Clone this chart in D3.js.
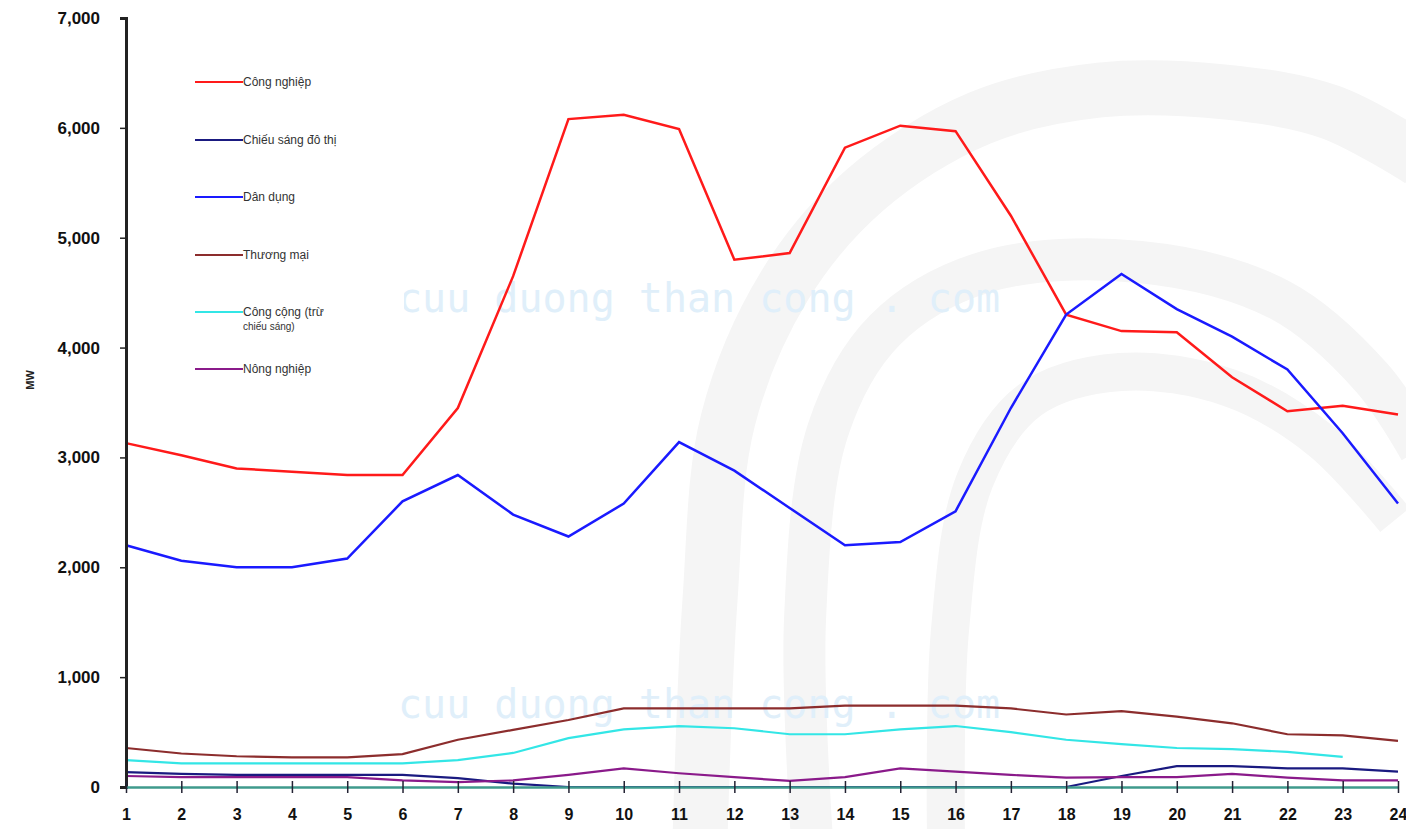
<!DOCTYPE html>
<html>
<head>
<meta charset="utf-8">
<script src="https://cdn.jsdelivr.net/npm/d3@7"></script>
<style>
  body { margin: 0; background: #fff; }
  svg { display: block; }
</style>
</head>
<body>
<svg id="chart" width="1406" height="829"></svg>
<script>
// hours of the day
const hours = d3.range(1, 25);

// MW per sector
const congNghiep = [3130, 3020, 2900, 2870, 2840, 2840, 3450, 4650, 6080, 6120, 5990, 4800,
                    4860, 5820, 6020, 5970, 5200, 4300, 4150, 4140, 3730, 3420, 3470, 3390];
const chieuSang  = [135, 120, 110, 110, 110, 110, 80, 30, 0, 0, 0, 0,
                    0, 0, 0, 0, 0, 0, 100, 190, 190, 170, 170, 140];
const danDung    = [2200, 2060, 2000, 2000, 2080, 2600, 2840, 2480, 2280, 2580, 3140, 2880,
                    2540, 2200, 2230, 2510, 3450, 4300, 4670, 4350, 4100, 3800, 3220, 2580];
const thuongMai  = [355, 305, 280, 270, 270, 300, 430, 520, 610, 715, 715, 715,
                    715, 740, 740, 740, 715, 660, 690, 640, 580, 480, 470, 420];
const congCong   = [245, 215, 215, 215, 215, 215, 245, 310, 445, 525, 555, 535,
                    480, 480, 525, 555, 500, 430, 390, 355, 345, 320, 275, null];
const nongNghiep = [100, 90, 90, 90, 90, 60, 45, 60, 110, 170, 125, 90,
                    55, 90, 170, 140, 110, 85, 90, 90, 120, 85, 60, 60];

const seriesNames = ["Công nghiệp", "Chiếu sáng đô thị", "Dân dụng", "Thương mại",
                     "Công cộng (trừ chiếu sáng)", "Nông nghiệp"];
const seriesValues = [congNghiep, chieuSang, danDung, thuongMai, congCong, nongNghiep];
const seriesColors = ["#ff1a1a", "#1a1a80", "#1a1aff", "#8c2d2d", "#33e6e6", "#8a1a8a"];
const seriesWidths = [2.5, 2.2, 2.5, 2.2, 2.2, 2.2];

const yTicks = [0, 1000, 2000, 3000, 4000, 5000, 6000, 7000];

const svg = d3.select("#chart");

const x = d3.scaleLinear().domain([1, 24]).range([126, 1398]);
const y = d3.scaleLinear().domain([0, 7000]).range([787, 18]);

// faint watermark swirl in the background (decoration, not data)
const swirl = [
    { w: 55, pts: [[700, 840], [710, 600], [728, 420], [785, 285], [865, 190], [980, 118], [1100, 90], [1225, 92], [1330, 112], [1420, 160]] },
    { w: 42, pts: [[812, 840], [805, 620], [828, 430], [885, 330], [985, 272], [1140, 262], [1280, 300], [1372, 378], [1420, 450]] },
    { w: 38, pts: [[946, 840], [950, 630], [975, 480], [1030, 400], [1120, 372], [1230, 388], [1320, 440], [1395, 520]] }
];
const swirlLine = d3.line().curve(d3.curveCatmullRom);
svg.append("g")
    .selectAll("path")
    .data(swirl)
    .join("path")
    .attr("d", d => swirlLine(d.pts))
    .attr("fill", "none")
    .attr("stroke", "#f5f5f5")
    .attr("stroke-width", d => d.w);

// watermark text
svg.selectAll(".wmtext")
    .data([312, 718])
    .join("text")
    .attr("class", "wmtext")
    .attr("x", 398)
    .attr("y", d => d)
    .attr("font-family", "DejaVu Sans Mono")
    .attr("font-size", 40)
    .attr("fill", "#e0effa")
    .text("cuu duong than cong . com");

// legend box
const legend = svg.append("g");
legend.append("rect")
    .attr("x", 182).attr("y", 60).attr("width", 222).attr("height", 330)
    .attr("fill", "#fff");

const legendY = [82, 140, 197, 255, 312, 369];
seriesNames.forEach((name, i) => {
    legend.append("line")
        .attr("x1", 195).attr("x2", 243)
        .attr("y1", legendY[i]).attr("y2", legendY[i])
        .attr("stroke", seriesColors[i]).attr("stroke-width", 2);
    let t = legend.append("text")
        .attr("x", 243).attr("y", legendY[i] + 4)
        .attr("font-family", "Liberation Sans")
        .attr("font-size", 12)
        .attr("fill", "#333");
    if (name.indexOf("(") > 0) {
        t.append("tspan").text("Công cộng (trừ");
        t.append("tspan").attr("x", 243).attr("dy", 14).attr("font-size", 10).text("chiếu sáng)");
    } else {
        t.text(name);
    }
});

// lines
const line = d3.line()
    .defined(d => d.v !== null)
    .x(d => x(d.h))
    .y(d => y(d.v));

seriesValues.forEach((vals, i) => {
    svg.append("path")
        .datum(hours.map((h, j) => ({ h: h, v: vals[j] })))
        .attr("fill", "none")
        .attr("stroke", seriesColors[i])
        .attr("stroke-width", seriesWidths[i])
        .attr("d", line);
});

// y axis
const yAxis = svg.append("g")
    .attr("transform", "translate(126,0)")
    .call(d3.axisLeft(y).tickValues(yTicks).tickSize(6).tickPadding(20)
        .tickFormat(d => d === 0 ? "0" : d3.format(",")(d)));
yAxis.select(".domain").attr("stroke", "#222").attr("stroke-width", 3);
yAxis.selectAll(".tick line").attr("stroke", "#222").attr("stroke-width", 1.5);
yAxis.selectAll("text")
    .attr("font-family", "Liberation Sans")
    .attr("font-weight", "bold")
    .attr("font-size", 17)
    .attr("fill", "#111");

// x axis
const xAxis = svg.append("g")
    .attr("transform", "translate(0,787)")
    .call(d3.axisBottom(x).tickValues(hours).tickSize(6).tickSizeOuter(0).tickPadding(16)
        .tickFormat(d3.format("d")));
xAxis.select(".domain").attr("stroke", "#3f9a8c").attr("stroke-width", 2.5);
xAxis.selectAll(".tick line").attr("y1", -6).attr("stroke", "#223").attr("stroke-width", 1.5);
xAxis.selectAll("text")
    .attr("font-family", "Liberation Sans")
    .attr("font-weight", "bold")
    .attr("font-size", 16)
    .attr("fill", "#111");

// y axis title
svg.append("text")
    .attr("transform", "translate(34,380) rotate(-90)")
    .attr("text-anchor", "middle")
    .attr("font-family", "Liberation Sans")
    .attr("font-weight", "bold")
    .attr("font-size", 11)
    .attr("fill", "#222")
    .text("MW");
</script>
</body>
</html>
